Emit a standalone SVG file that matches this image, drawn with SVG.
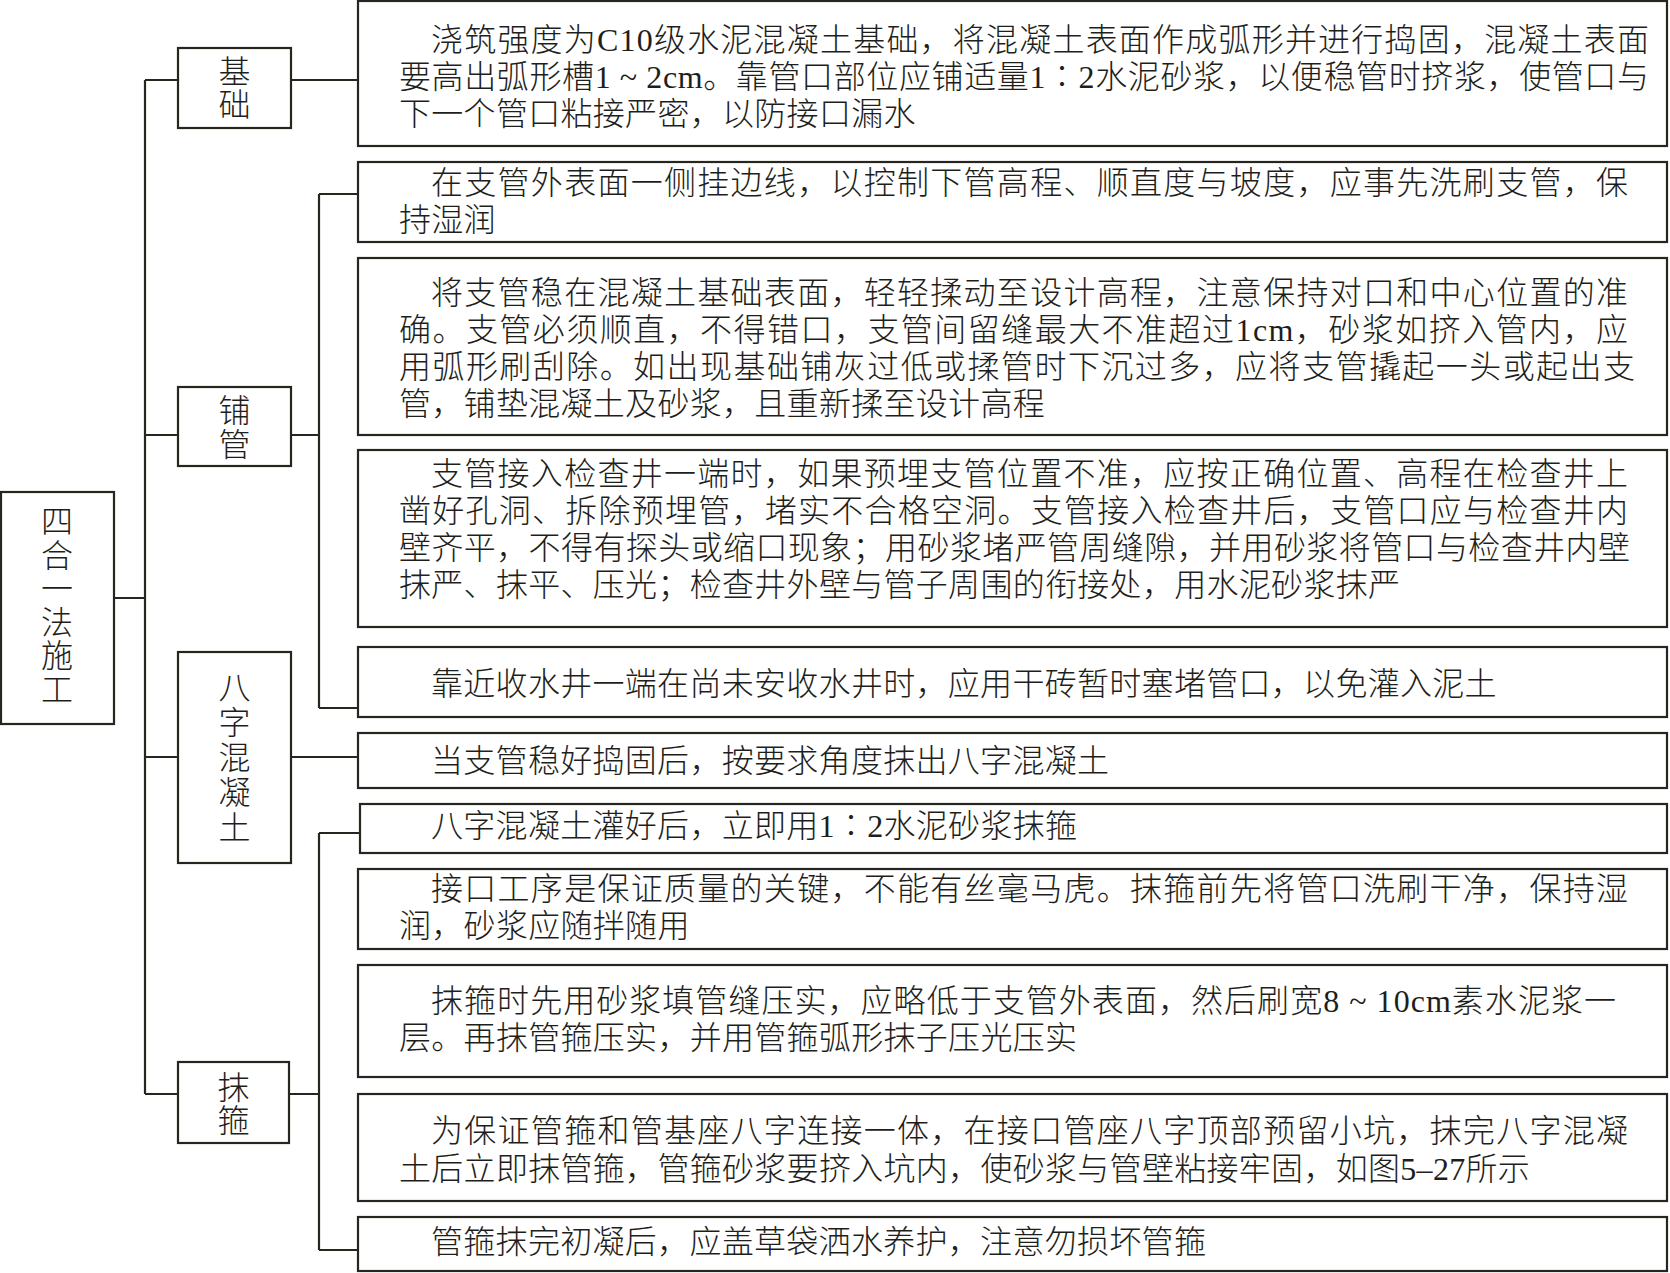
<svg xmlns="http://www.w3.org/2000/svg" width="1670" height="1273" viewBox="0 0 1670 1273">
<style>
.box{fill:#fff;stroke:#26261e;stroke-width:2.2}
.ln{fill:none;stroke:#26261e;stroke-width:2.2}
.t{font-family:"Liberation Serif","Noto Sans CJK SC",serif;font-size:32px;font-weight:300;fill:#1e1e1a}
.n{letter-spacing:0.3px}
.lbl{font-family:"Liberation Serif","Noto Sans CJK SC",serif;font-size:32px;font-weight:300;fill:#1e1e1a;text-anchor:middle}
</style>
<rect width="1670" height="1273" fill="#fff"/>
<g id="connectors">
<path class="ln" d="M114,598H145M145,80V1094M145,80H178M145,435H178M145,757H178M145,1094H178"/>
<path class="ln" d="M291,80H358"/>
<path class="ln" d="M291,435H319M319,194V708M319,194H358M319,708H358"/>
<path class="ln" d="M291,757H358"/>
<path class="ln" d="M289,1094H319M319,833V1250M319,833H360M319,1250H358"/>
</g>
<g id="root">
<rect class="box" x="1" y="492" width="113" height="232"/>
<text class="lbl"><tspan x="57" y="533">四</tspan><tspan x="57" y="566.5">合</tspan><tspan x="57" y="600">一</tspan><tspan x="57" y="633.5">法</tspan><tspan x="57" y="667">施</tspan><tspan x="57" y="700.5">工</tspan></text>
</g>
<g id="n-jichu">
<rect class="box" x="178" y="48" width="113" height="80"/>
<text class="lbl"><tspan x="234.5" y="83">基</tspan><tspan x="234.5" y="116">础</tspan></text>
</g>
<g id="n-puguan">
<rect class="box" x="178" y="387" width="113" height="79"/>
<text class="lbl"><tspan x="234.5" y="422">铺</tspan><tspan x="234.5" y="456">管</tspan></text>
</g>
<g id="n-bazi">
<rect class="box" x="178" y="652" width="113" height="211"/>
<text class="lbl"><tspan x="234.5" y="699">八</tspan><tspan x="234.5" y="734">字</tspan><tspan x="234.5" y="769">混</tspan><tspan x="234.5" y="804">凝</tspan><tspan x="234.5" y="839">土</tspan></text>
</g>
<g id="n-mogu">
<rect class="box" x="178" y="1062" width="111" height="81"/>
<text class="lbl"><tspan x="233.5" y="1099">抹</tspan><tspan x="233.5" y="1132">箍</tspan></text>
</g>
<g id="d1">
<rect class="box" x="358" y="1" width="1309" height="145"/>
<text class="t" x="431" y="51" textLength="1218" lengthAdjust="spacing">浇筑强度为C10级水泥混凝土基础，将混凝土表面作成弧形并进行捣固，混凝土表面</text>
<text class="t" x="399" y="88" textLength="1250" lengthAdjust="spacing">要高出弧形槽1 ~ 2cm。靠管口部位应铺适量1∶2水泥砂浆，以便稳管时挤浆，使管口与</text>
<text class="t n" x="399" y="125">下一个管口粘接严密，以防接口漏水</text>
</g>
<g id="d2">
<rect class="box" x="358" y="162" width="1309" height="80"/>
<text class="t" x="431" y="194" textLength="1197" lengthAdjust="spacing">在支管外表面一侧挂边线，以控制下管高程、顺直度与坡度，应事先洗刷支管，保</text>
<text class="t n" x="399" y="231">持湿润</text>
</g>
<g id="d3">
<rect class="box" x="358" y="258" width="1309" height="177"/>
<text class="t" x="431" y="304" textLength="1197" lengthAdjust="spacing">将支管稳在混凝土基础表面，轻轻揉动至设计高程，注意保持对口和中心位置的准</text>
<text class="t" x="399" y="341" textLength="1229" lengthAdjust="spacing">确。支管必须顺直，不得错口，支管间留缝最大不准超过1cm，砂浆如挤入管内，应</text>
<text class="t" x="399" y="378" textLength="1236" lengthAdjust="spacing">用弧形刷刮除。如出现基础铺灰过低或揉管时下沉过多，应将支管撬起一头或起出支</text>
<text class="t n" x="399" y="415">管，铺垫混凝土及砂浆，且重新揉至设计高程</text>
</g>
<g id="d4">
<rect class="box" x="358" y="450" width="1309" height="177"/>
<text class="t" x="431" y="485" textLength="1197" lengthAdjust="spacing">支管接入检查井一端时，如果预埋支管位置不准，应按正确位置、高程在检查井上</text>
<text class="t" x="399" y="522" textLength="1229" lengthAdjust="spacing">凿好孔洞、拆除预埋管，堵实不合格空洞。支管接入检查井后，支管口应与检查井内</text>
<text class="t" x="399" y="559" textLength="1231" lengthAdjust="spacing">壁齐平，不得有探头或缩口现象；用砂浆堵严管周缝隙，并用砂浆将管口与检查井内壁</text>
<text class="t n" x="399" y="596">抹严、抹平、压光；检查井外壁与管子周围的衔接处，用水泥砂浆抹严</text>
</g>
<g id="d5">
<rect class="box" x="358" y="647" width="1309" height="70"/>
<text class="t n" x="431" y="695">靠近收水井一端在尚未安收水井时，应用干砖暂时塞堵管口，以免灌入泥土</text>
</g>
<g id="d6">
<rect class="box" x="358" y="733" width="1309" height="55"/>
<text class="t n" x="431" y="772">当支管稳好捣固后，按要求角度抹出八字混凝土</text>
</g>
<g id="d7">
<rect class="box" x="360" y="804" width="1307" height="49"/>
<text class="t n" x="431" y="837">八字混凝土灌好后，立即用1∶2水泥砂浆抹箍</text>
</g>
<g id="d8">
<rect class="box" x="358" y="869" width="1309" height="80"/>
<text class="t" x="431" y="900" textLength="1197" lengthAdjust="spacing">接口工序是保证质量的关键，不能有丝毫马虎。抹箍前先将管口洗刷干净，保持湿</text>
<text class="t n" x="399" y="937">润，砂浆应随拌随用</text>
</g>
<g id="d9">
<rect class="box" x="358" y="965" width="1309" height="112"/>
<text class="t" x="431" y="1012" textLength="1185" lengthAdjust="spacing">抹箍时先用砂浆填管缝压实，应略低于支管外表面，然后刷宽8 ~ 10cm素水泥浆一</text>
<text class="t n" x="399" y="1049">层。再抹管箍压实，并用管箍弧形抹子压光压实</text>
</g>
<g id="d10">
<rect class="box" x="358" y="1094" width="1309" height="107"/>
<text class="t" x="431" y="1142" textLength="1197" lengthAdjust="spacing">为保证管箍和管基座八字连接一体，在接口管座八字顶部预留小坑，抹完八字混凝</text>
<text class="t n" x="399" y="1180">土后立即抹管箍，管箍砂浆要挤入坑内，使砂浆与管壁粘接牢固，如图5–27所示</text>
</g>
<g id="d11">
<rect class="box" x="358" y="1217" width="1309" height="54"/>
<text class="t n" x="431" y="1253">管箍抹完初凝后，应盖草袋洒水养护，注意勿损坏管箍</text>
</g>
</svg>
